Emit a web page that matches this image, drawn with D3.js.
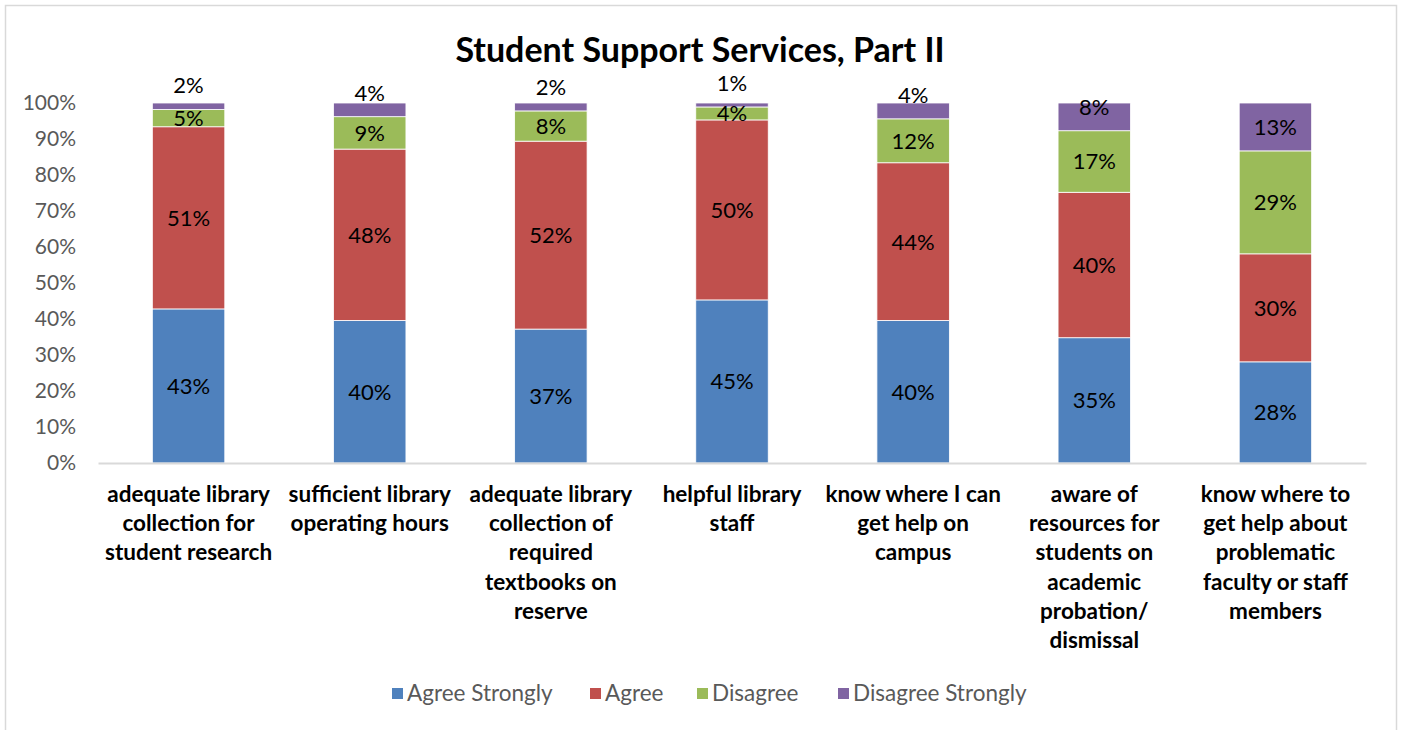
<!DOCTYPE html>
<html>
<head>
<meta charset="utf-8">
<script src="https://cdn.jsdelivr.net/npm/d3@7/dist/d3.min.js"></script>
<style>
html,body{margin:0;padding:0;background:#fff;}
svg{display:block;}
text{font-family:Lato,"Open Sans",sans-serif;}
</style>
</head>
<body>
<svg id="chart" width="1403" height="730"></svg>
<script>
const title = "Student Support Services, Part II";
const categories = [
  "adequate library\ncollection for\nstudent research",
  "sufficient library\noperating hours",
  "adequate library\ncollection of\nrequired\ntextbooks on\nreserve",
  "helpful library\nstaff",
  "know where I can\nget help on\ncampus",
  "aware of\nresources for\nstudents on\nacademic\nprobation/\ndismissal",
  "know where to\nget help about\nproblematic\nfaculty or staff\nmembers"
];
const seriesNames = ["Agree Strongly", "Agree", "Disagree", "Disagree Strongly"];
const seriesColors = ["#4F81BD", "#C0504D", "#9BBB59", "#8064A2"];
const agreeStrongly    = [42.8, 39.6, 37.2, 45.3, 39.6, 34.8, 28.1];
const agree            = [50.6, 47.6, 52.2, 50.0, 43.8, 40.4, 30.0];
const disagree         = [4.8,  9.0,  8.4,  3.6,  12.2, 17.1, 28.6];
const disagreeStrongly = [1.8,  3.8,  2.2,  1.1,  4.4,  7.7,  13.3];
const yTicks = [0, 0.1, 0.2, 0.3, 0.4, 0.5, 0.6, 0.7, 0.8, 0.9, 1.0];

const seriesValues = [agreeStrongly, agree, disagree, disagreeStrongly];
const rows = categories.map((c, i) => {
  const r = {cat: c};
  const total = d3.sum(seriesValues, s => s[i]);
  seriesNames.forEach((n, k) => r[n] = seriesValues[k][i] / total);
  r.raw = seriesValues.map(s => s[i]);
  return r;
});
const stack = d3.stack().keys(seriesNames)(rows);

const svg = d3.select("#chart");
// outer border
svg.append("rect").attr("x", 5.5).attr("y", 5.5).attr("width", 1391).attr("height", 740)
  .attr("fill", "#fff").attr("stroke", "#d9d9d9").attr("stroke-width", 1.5);

const x = d3.scaleBand().domain(categories).range([98, 1366]).paddingInner(0.6).paddingOuter(0.3);
const y = d3.scaleLinear().domain([0, 1]).range([463, 103]);

// title
svg.append("text").attr("x", 700).attr("y", 62).attr("text-anchor", "middle")
  .attr("font-size", 34).attr("font-weight", "bold").attr("fill", "#000").text(title);

// y axis
const yAxis = d3.axisLeft(y).tickValues(yTicks).tickFormat(d3.format(".0%")).tickSize(0).tickPadding(0);
const yg = svg.append("g").attr("transform", "translate(76,0)").call(yAxis);
yg.select(".domain").remove();
yg.selectAll("text").attr("font-size", 21).attr("fill", "#595959").attr("font-family", "Lato,'Open Sans',sans-serif");

// bars
const layers = svg.append("g").selectAll("g").data(stack).join("g")
  .attr("fill", (d, i) => seriesColors[i]);
layers.selectAll("rect").data(d => d).join("rect")
  .attr("x", d => x(d.data.cat))
  .attr("width", x.bandwidth())
  .attr("y", d => y(d[1]))
  .attr("height", d => y(d[0]) - y(d[1]))
  .attr("stroke", "#fff").attr("stroke-width", 0.8);

// x axis line
const xAxis = d3.axisBottom(x).tickSize(0).tickFormat("");
const xg = svg.append("g").attr("transform", "translate(0,463)").call(xAxis);
xg.select(".domain").attr("stroke", "#d9d9d9").attr("stroke-width", 2);

// data labels
stack.forEach((layer, k) => {
  svg.append("g").selectAll("text").data(layer).join("text")
    .attr("x", d => x(d.data.cat) + x.bandwidth() / 2)
    .attr("y", d => {
      const top = y(d[1]), bottom = y(d[0]);
      const center = (top + bottom) / 2;
      return (k === stack.length - 1) ? Math.min(center, bottom - 24) : center;
    })
    .attr("dy", "0.36em")
    .attr("text-anchor", "middle")
    .attr("font-size", 22).attr("fill", "#000")
    .text(d => Math.round(d.data.raw[k]) + "%");
});

// category labels
categories.forEach(c => {
  const lines = c.split("\n");
  const t = svg.append("text").attr("text-anchor", "middle")
    .attr("font-size", 22.5).attr("font-weight", "bold").attr("fill", "#000");
  lines.forEach((ln, j) => {
    t.append("tspan").attr("x", x(c) + x.bandwidth() / 2).attr("y", 502 + j * 29.2).text(ln);
  });
});

// legend
const legendX = [392, 590, 697, 838];
const lg = svg.append("g");
seriesNames.forEach((n, i) => {
  lg.append("rect").attr("x", legendX[i]).attr("y", 688).attr("width", 11).attr("height", 11).attr("fill", seriesColors[i]);
  lg.append("text").attr("x", legendX[i] + 15).attr("y", 701).attr("font-size", 22.5).attr("fill", "#595959").text(n);
});
</script>
</body>
</html>
